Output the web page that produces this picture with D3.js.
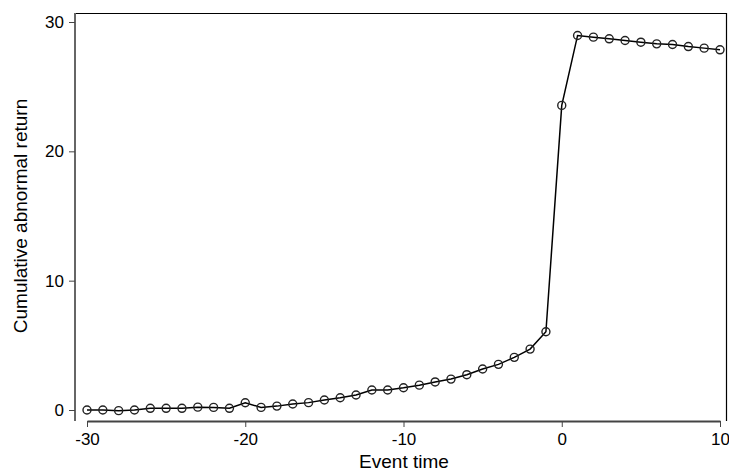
<!DOCTYPE html>
<html>
<head>
<meta charset="utf-8">
<script src="https://cdn.jsdelivr.net/npm/d3@7"></script>
<style>
  body { margin: 0; background: #fff; }
  text { font-family: "Liberation Sans", Arial, sans-serif; fill: #000; }
</style>
</head>
<body>
<script>
// event window and cumulative abnormal returns
const eventTime = d3.range(-30, 11);
const car = [
  0, 0, -0.05, 0, 0.13, 0.13, 0.13, 0.22, 0.2, 0.13,
  0.56, 0.2, 0.3, 0.46, 0.57, 0.77, 0.95, 1.16, 1.55, 1.55,
  1.72, 1.92, 2.17, 2.39, 2.73, 3.17, 3.53, 4.07, 4.71, 6.05,
  23.55, 28.96, 28.83, 28.7, 28.57, 28.44, 28.31, 28.26, 28.1, 27.98,
  27.85
];
const xTicks = [-30, -20, -10, 0, 10];
const yTicks = [0, 10, 20, 30];

const W = 729, H = 473;
const margin = {top: 13, right: 2, bottom: 52, left: 75};
const width = W - margin.left - margin.right;
const height = H - margin.top - margin.bottom;

const svg = d3.select("body").append("svg")
    .attr("width", W)
    .attr("height", H);

const g = svg.append("g")
    .attr("transform", "translate(" + margin.left + "," + margin.top + ")");

// scales: -30 -> x=87, 10 -> x=720 ; 0 -> y=410, 30 -> y=22
const x = d3.scaleLinear().domain([-30, 10]).range([12, 645]);
const y = d3.scaleLinear().domain([0, 30]).range([397, 9]);

// plain hyphen minus like the original
const fmt = function(d) { return String(d); };

// frame (top and right)
g.append("path")
    .attr("d", "M0,0.5H" + (width - 0.5) + "V" + height)
    .attr("fill", "none")
    .attr("stroke", "#000")
    .attr("stroke-width", 1.2);

// x axis
const xAxis = g.append("g")
    .attr("transform", "translate(0," + height + ")")
    .call(d3.axisBottom(x).tickValues(xTicks).tickSize(6).tickSizeOuter(0).tickPadding(6)
        .tickFormat(fmt));
xAxis.select(".domain").attr("stroke", "#444").attr("stroke-width", 2);
xAxis.selectAll(".tick line").attr("stroke", "#444");
xAxis.selectAll(".tick text").attr("font-size", 17).attr("fill", "#000");

// y axis
const yAxis = g.append("g")
    .call(d3.axisLeft(y).tickValues(yTicks).tickSize(6).tickSizeOuter(0).tickPadding(5)
        .tickFormat(fmt));
yAxis.select(".domain").attr("stroke", "#666").attr("stroke-width", 2)
    .attr("d", "M0,0V" + height);
yAxis.selectAll(".tick line").attr("stroke", "#444");
yAxis.selectAll(".tick text").attr("font-size", 17).attr("fill", "#000");

// axis titles
svg.append("text")
    .attr("x", margin.left + width / 2 + 3)
    .attr("y", 468)
    .attr("text-anchor", "middle")
    .attr("font-size", 19)
    .text("Event time");

svg.append("text")
    .attr("transform", "translate(27," + (margin.top + height / 2 - 1) + ") rotate(-90)")
    .attr("text-anchor", "middle")
    .attr("font-size", 19)
    .text("Cumulative abnormal return");

const pts = eventTime.map(function(d, i) { return {t: d, v: car[i]}; });

// line
g.append("path")
    .datum(pts)
    .attr("fill", "none")
    .attr("stroke", "#000")
    .attr("stroke-width", 1.5)
    .attr("d", d3.line()
        .x(function(d) { return x(d.t); })
        .y(function(d) { return y(d.v); }));

// hollow markers
g.selectAll("circle")
    .data(pts)
    .enter()
    .append("circle")
    .attr("cx", function(d) { return x(d.t); })
    .attr("cy", function(d) { return y(d.v); })
    .attr("r", 4)
    .attr("fill", "none")
    .attr("stroke", "#222")
    .attr("stroke-width", 1.4);
</script>
</body>
</html>
